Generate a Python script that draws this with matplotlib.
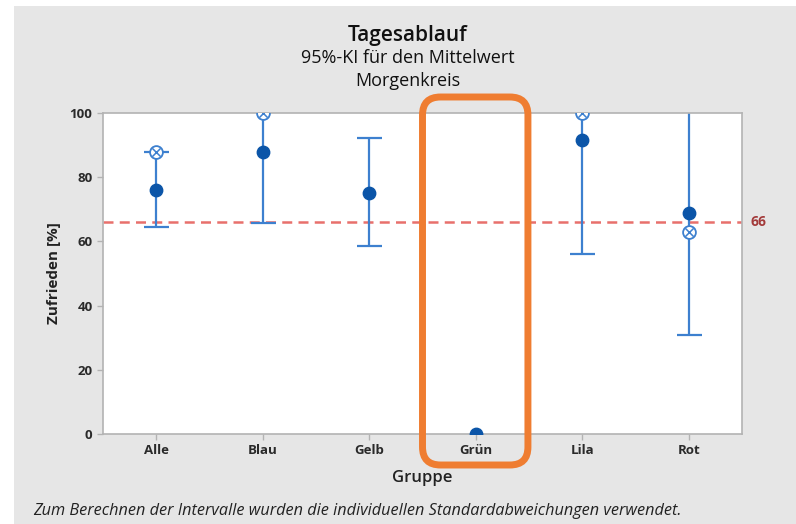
import matplotlib
matplotlib.use("Agg")
import matplotlib.pyplot as plt
from matplotlib.patches import Rectangle, FancyBboxPatch

plt.rcParams["font.family"] = ["Open Sans", "DejaVu Sans"]

groups = ["Alle", "Blau", "Gelb", "Grün", "Lila", "Rot"]
means = [76.0, 88.0, 75.2, 0.0, 91.6, 69.0]
ci_low = [64.6, 65.8, 58.6, None, 56.1, 30.8]
ci_high = [88.0, 110.0, 92.1, None, 127.0, 107.0]
# crossed-circle markers
cross_groups = ["Alle", "Blau", "Lila", "Rot"]
cross_values = [88.0, 100.0, 100.0, 62.8]
ref_value = 66
yticks = [0, 20, 40, 60, 80, 100]

title = "Tagesablauf"
subtitle1 = "95%-KI für den Mittelwert"
subtitle2 = "Morgenkreis"
footnote = "Zum Berechnen der Intervalle wurden die individuellen Standardabweichungen verwendet."

W, H = 796, 524
fig = plt.figure(figsize=(W / 100, H / 100), dpi=100)
fig.patch.set_facecolor("white")
fig.patches.append(Rectangle((14 / W, 0), 1, (H - 6) / H, transform=fig.transFigure,
                             facecolor="#e6e6e6", edgecolor="none", zorder=-5))

ax = fig.add_axes([103 / W, (H - 434) / H, 639 / W, 321 / H])
ax.set_facecolor("white")

line_blue = "#3d80cf"
dark_blue = "#0b55a8"

for i, g in enumerate(groups):
    if ci_low[i] is None:
        continue
    ax.errorbar(i, means[i], yerr=[[means[i] - ci_low[i]], [ci_high[i] - means[i]]],
                fmt="none", ecolor=line_blue, elinewidth=1.6, capsize=9, capthick=1.6, zorder=2)

ax.scatter(range(len(groups)), means, s=80, color=dark_blue, zorder=4, clip_on=True)

cx = [groups.index(g) for g in cross_groups]
ax.scatter(cx, cross_values, s=85, facecolor="white", edgecolor=line_blue, linewidth=1.3,
           zorder=3, clip_on=True)
ax.scatter(cx, cross_values, s=36, marker="x", color=line_blue, linewidth=1.1, zorder=3,
           clip_on=True)

ax.axhline(ref_value, color="#e8706c", linestyle=(0, (4, 2.5)), linewidth=1.8, zorder=1)
ax.text(5.58, ref_value, str(ref_value), color="#a33a3a", fontsize=10, fontweight="bold",
        va="center", ha="left", transform=ax.transData, clip_on=False)

ax.set_xlim(-0.5, 5.5)
ax.set_ylim(0, 100)
ax.set_yticks(yticks)
ax.set_xticks(range(len(groups)))
ax.set_xticklabels(groups)
for s in ax.spines.values():
    s.set_color("#b3b3b3")
    s.set_linewidth(1.2)
ax.tick_params(colors="#b3b3b3", labelcolor="#2a2a2a", length=4, width=1, labelsize=9.5)
for lab in ax.get_xticklabels() + ax.get_yticklabels():
    lab.set_fontweight("bold")

ax.set_ylabel("Zufrieden [%]", fontsize=11, fontweight="bold", color="#222222", labelpad=6)
ax.set_xlabel("Gruppe", fontsize=12, fontweight="semibold", color="#222222", labelpad=9)

fig.text(408 / W, 1 - 36 / H, title, ha="center", va="center", fontsize=15,
         fontweight="semibold", color="#111111")
fig.text(408 / W, 1 - 58 / H, subtitle1, ha="center", va="center", fontsize=13, color="#111111")
fig.text(408 / W, 1 - 81 / H, subtitle2, ha="center", va="center", fontsize=13, color="#111111")
fig.text(33 / W, 1 - 511 / H, footnote, ha="left", va="center", fontsize=11.7,
         style="italic", color="#222222")

# orange highlight box around Grün
fig.canvas.draw()
x0, _ = ax.transData.transform((2.5, 0))
x1, _ = ax.transData.transform((3.49, 0))
y_top = H - 97
y_bot = H - 465
box = FancyBboxPatch((x0 / 100, y_bot / 100), (x1 - x0) / 100, (y_top - y_bot) / 100,
                     boxstyle="round,pad=0,rounding_size=0.18", transform=fig.dpi_scale_trans,
                     facecolor="none", edgecolor="#ef7d31", linewidth=5, zorder=10)
fig.patches.append(box)

fig.savefig("out.png", dpi=100)
